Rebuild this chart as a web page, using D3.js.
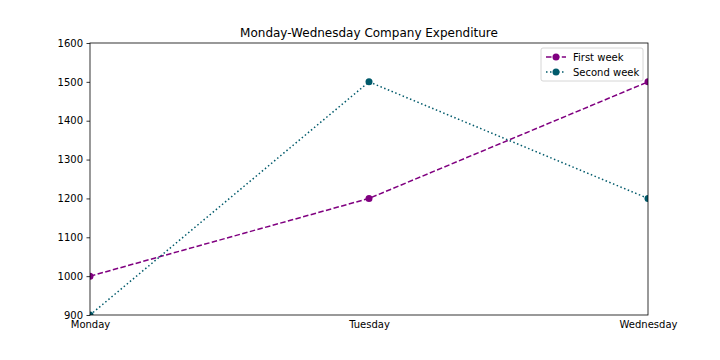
<!DOCTYPE html>
<html><head><meta charset="utf-8">
<script src="https://cdn.jsdelivr.net/npm/d3@7"></script>
<style>body{margin:0;background:#fff}svg{font-family:"DejaVu Sans",sans-serif}</style>
</head><body><svg id="c" width="720" height="360"></svg>
<script>
const days = ["Monday", "Tuesday", "Wednesday"];
const firstWeek = [1000, 1200, 1500];
const secondWeek = [900, 1500, 1200];
const yTicks = [900, 1000, 1100, 1200, 1300, 1400, 1500, 1600];
const seriesNames = ["First week", "Second week"];

const svg = d3.select("#c");
const L = 90, R = 648, T = 43, B = 315;
const x = d3.scalePoint().domain(days).range([L, R]);
const y = d3.scaleLinear().domain([900, 1600]).range([B, T]);

svg.append("text").attr("x", (L + R) / 2).attr("y", 37).attr("text-anchor", "middle")
  .attr("font-size", 12).attr("fill", "#000").text("Monday-Wednesday Company Expenditure");

const yAxis = svg.append("g").attr("transform", `translate(${L},0)`)
  .call(d3.axisLeft(y).tickValues(yTicks).tickSize(3.5).tickPadding(3.5).tickFormat(d3.format("d")));
yAxis.select(".domain").remove();
yAxis.selectAll("text").attr("font-size", 10).attr("font-family", "DejaVu Sans").attr("fill", "#000");
yAxis.selectAll("line").attr("stroke", "#000").attr("stroke-width", 0.8);

const xAxis = svg.append("g").attr("transform", `translate(0,${B})`)
  .call(d3.axisBottom(x).tickSize(0).tickPadding(6));
xAxis.select(".domain").remove();
xAxis.selectAll("text").attr("font-size", 10).attr("font-family", "DejaVu Sans").attr("fill", "#000");

const series = [
  {name: seriesNames[0], vals: firstWeek, color: "#800080", dash: "5.5,2.4"},
  {name: seriesNames[1], vals: secondWeek, color: "#005a6b", dash: "1.5,2.5"}
];
const line = d3.line().x((d, i) => x(days[i])).y(d => y(d));
const clip = svg.append("clipPath").attr("id", "clip").append("rect")
  .attr("x", L).attr("y", T).attr("width", R - L).attr("height", B - T);
series.forEach(s => {
  svg.append("path").attr("d", line(s.vals)).attr("fill", "none").attr("stroke", s.color)
    .attr("stroke-width", 1.5).attr("stroke-dasharray", s.dash);
  svg.append("g").attr("clip-path", "url(#clip)").selectAll("circle").data(s.vals).join("circle")
    .attr("cx", (d, i) => x(days[i])).attr("cy", d => y(d)).attr("r", 3.5).attr("fill", s.color);
});

svg.append("rect").attr("x", L).attr("y", T).attr("width", R - L).attr("height", B - T)
  .attr("fill", "none").attr("stroke", "#000").attr("stroke-width", 0.8);

const lg = svg.append("g").attr("transform", "translate(541,48)");
lg.append("rect").attr("width", 102).attr("height", 33).attr("rx", 2)
  .attr("fill", "#fff").attr("fill-opacity", 0.8).attr("stroke", "#ccc").attr("stroke-width", 0.8);
series.forEach((s, i) => {
  const yy = 9 + i * 15;
  lg.append("line").attr("x1", 5).attr("x2", 25).attr("y1", yy).attr("y2", yy)
    .attr("stroke", s.color).attr("stroke-width", 1.5).attr("stroke-dasharray", s.dash);
  lg.append("circle").attr("cx", 15).attr("cy", yy).attr("r", 3.5).attr("fill", s.color);
  lg.append("text").attr("x", 32).attr("y", yy + 3.5).attr("font-size", 10).attr("fill", "#000").text(s.name);
});
</script></body></html>
